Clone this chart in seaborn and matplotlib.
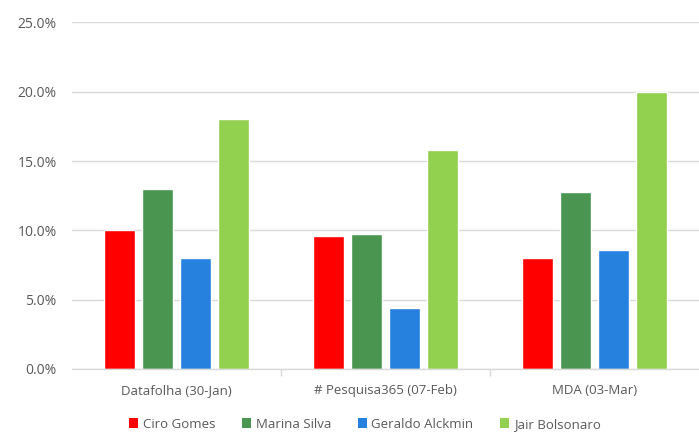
import matplotlib
matplotlib.use("Agg")
import matplotlib.pyplot as plt
from matplotlib.patches import Patch
from matplotlib.ticker import FuncFormatter, FixedLocator
import pandas as pd
import seaborn as sns

polls = ["Datafolha (30-Jan)", "# Pesquisa365 (07-Feb)", "MDA (03-Mar)"]
candidates = ["Ciro Gomes", "Marina Silva", "Geraldo Alckmin", "Jair Bolsonaro"]
ciro = [10.0, 9.6, 8.0]
marina = [13.0, 9.7, 12.8]
alckmin = [8.0, 4.4, 8.6]
bolsonaro = [18.0, 15.8, 20.0]
colors = ["#FF0000", "#4A9650", "#2580DE", "#92D050"]

series = [ciro, marina, alckmin, bolsonaro]
df = pd.DataFrame(
    [(p, c, v) for c, vals in zip(candidates, series) for p, v in zip(polls, vals)],
    columns=["poll", "candidate", "pct"],
)

sns.set_theme(style="white")
plt.rcParams["font.family"] = ["Open Sans", "DejaVu Sans"]

fig = plt.figure(figsize=(6.99, 4.32), dpi=100)
ax = fig.add_axes([0.103, 0.146, 0.897, 0.802])

sns.barplot(
    data=df, x="poll", y="pct", hue="candidate", order=polls,
    hue_order=candidates, palette=colors, width=0.725, gap=0.18,
    saturation=1, ax=ax, legend=False,
)

ax.set_ylim(0, 25)
ax.set_xlim(-0.5, 2.5)
ax.set_yticks([0, 5, 10, 15, 20, 25])
ax.yaxis.set_major_formatter(FuncFormatter(lambda v, _: f"{v:.1f}%"))
ax.grid(axis="y", color="#D9D9D9", linewidth=1)
ax.set_axisbelow(True)
for side in ["top", "right", "left"]:
    ax.spines[side].set_visible(False)
ax.spines["bottom"].set_color("#D9D9D9")
ax.spines["bottom"].set_linewidth(1)

ax.set_xlabel("")
ax.set_ylabel("")
ax.tick_params(axis="y", length=0, pad=11, labelsize=10, labelcolor="#595959")
ax.tick_params(axis="x", which="major", length=0, pad=11, labelsize=9.5, labelcolor="#595959")
ax.xaxis.set_minor_locator(FixedLocator([0.5, 1.5]))
ax.tick_params(axis="x", which="minor", length=5, width=1, color="#D9D9D9", bottom=True)

handles = [Patch(facecolor=c, edgecolor="none", label=n) for c, n in zip(colors, candidates)]
fig.legend(
    handles=handles, loc="center", bbox_to_anchor=(0.522, 0.018), ncol=4,
    frameon=False, fontsize=9.5, labelcolor="#595959", handlelength=0.7,
    handleheight=0.7, handletextpad=0.35, columnspacing=2.0,
)

fig.savefig("out.png", dpi=100, facecolor="white")
